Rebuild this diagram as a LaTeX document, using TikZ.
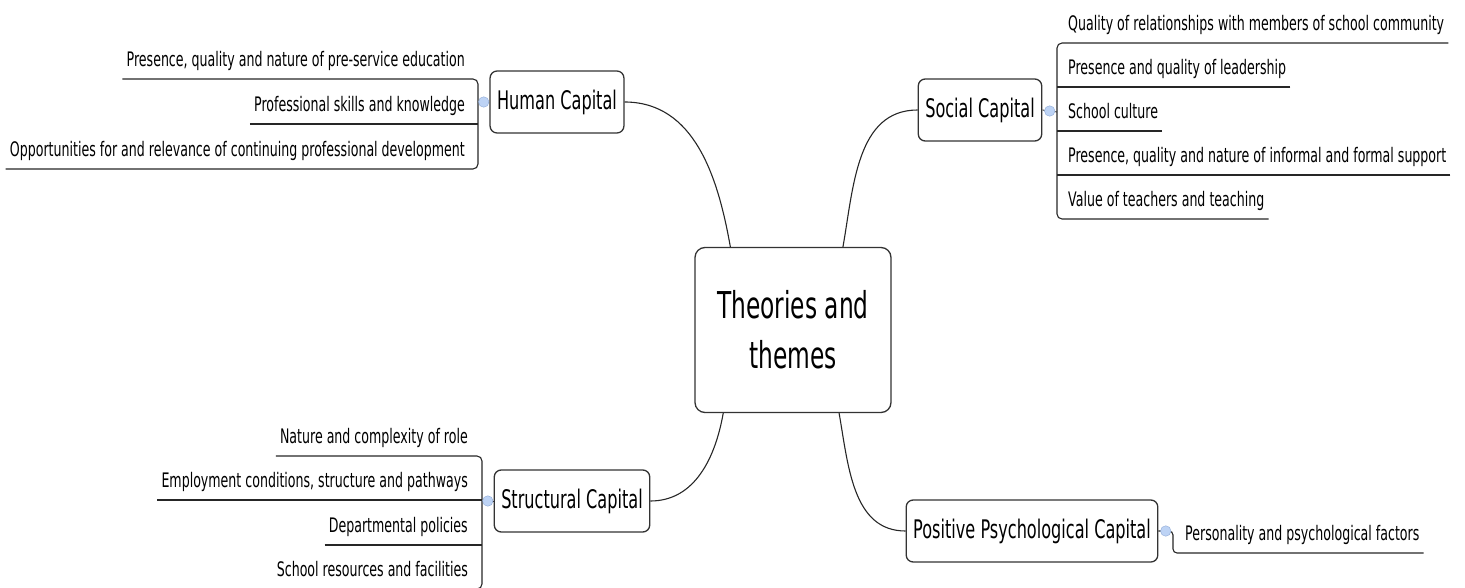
\documentclass[tikz,border=0pt]{standalone}
\usepackage{fontspec}
\setmainfont{DejaVu Sans}[FakeStretch=0.63]
\usetikzlibrary{calc, positioning}

\definecolor{knobfill}{HTML}{BDD3F5}
\definecolor{knobline}{HTML}{8FAAD6}

\begin{document}
\begin{tikzpicture}[x=1pt, y=1pt,
  theme/.style={draw=black!80, line width=1.3pt, rounded corners=10pt, align=center,
    minimum width=196pt, minimum height=165pt, font=\fontsize{37}{50}\selectfont},
  topic/.style={draw=black!80, line width=1.3pt, rounded corners=7pt, minimum height=62pt,
    inner xsep=7pt, font=\fontsize{25.6}{30}\selectfont},
  leaf/.style={inner xsep=4pt, inner ysep=0pt, text height=15pt, text depth=12pt,
    font=\fontsize{20}{24}\selectfont},
  link/.style={draw=black!85, line width=1.1pt},
  knob/.style={circle, draw=knobline, fill=knobfill, inner sep=0pt, minimum size=10.5pt}]
  \useasboundingbox (0,0) rectangle (1465,-588);

  % centre and main branches
  \node[theme] (theme) at (793,-330) {Theories and\\themes};
  \node[topic] (human) at (557,-102) {Human Capital};
  \node[topic] (social) at (980,-110) {Social Capital};
  \node[topic] (struct) at (572,-501) {Structural Capital};
  \node[topic] (posit) at (1032,-531) {Positive Psychological Capital};

  \draw[link] (human.east) to[out=0, in=100] (theme.127);
  \draw[link] (social.west) to[out=180, in=80] (theme.59);
  \draw[link] (struct.east) to[out=0, in=260] (theme.230);
  \draw[link] (posit.west) to[out=180, in=280] (theme.299);

  % human capital
  \coordinate (hbr) at (478,-102);
  \node[leaf, anchor=south east] (h1) at (469,-79) {Presence, quality and nature of pre-service education};
  \node[leaf, anchor=south east] (h2) at (469,-124) {Professional skills and knowledge};
  \node[leaf, anchor=south east] (h3) at (469,-169) {Opportunities for and relevance of continuing professional development};
  \draw[link, rounded corners=5pt] (h1.south west) -- (h1.south -| hbr) -- (h3.south -| hbr) -- (h3.south west);
  \draw[link] (h2.south west) -- (h2.south -| hbr);
  \draw[link, line width=0.8pt] (human.west) -- (hbr);
  \node[knob] (hk) at ($(hbr)!0.5!(human.west)$) {};

  % social capital
  \coordinate (sbr) at (1057,-112);
  \node[leaf, anchor=south west] (s1) at (1064,-43) {Quality of relationships with members of school community};
  \node[leaf, anchor=south west] (s2) at (1064,-87) {Presence and quality of leadership};
  \node[leaf, anchor=south west] (s3) at (1064,-131) {School culture};
  \node[leaf, anchor=south west] (s4) at (1064,-175) {Presence, quality and nature of informal and formal support};
  \node[leaf, anchor=south west] (s5) at (1064,-219) {Value of teachers and teaching};
  \draw[link, rounded corners=5pt] (s1.south east) -- (s1.south -| sbr) -- (s5.south -| sbr) -- (s5.south east);
  \foreach \s in {s2, s3, s4}
    \draw[link] (\s.south east) -- (\s.south -| sbr);
  \draw[link, line width=0.8pt] (social.east) -- (sbr);
  \node[knob] (sk) at ($(sbr)!0.5!(social.east)$) {};

  % structural capital
  \coordinate (tbr) at (482,-501);
  \node[leaf, anchor=south east] (t1) at (472,-456) {Nature and complexity of role};
  \node[leaf, anchor=south east] (t2) at (472,-500) {Employment conditions, structure and pathways};
  \node[leaf, anchor=south east] (t3) at (472,-545) {Departmental policies};
  \node[leaf, anchor=south east] (t4) at (472,-589) {School resources and facilities};
  \draw[link, rounded corners=5pt] (t1.south west) -- (t1.south -| tbr) -- (t4.south -| tbr) -- (t4.south west);
  \foreach \t in {t2, t3}
    \draw[link] (\t.south west) -- (\t.south -| tbr);
  \draw[link, line width=0.8pt] (struct.west) -- (tbr);
  \node[knob] (tk) at ($(tbr)!0.5!(struct.west)$) {};

  % positive psychological capital
  \coordinate (pbr) at (1173,-531);
  \node[leaf, anchor=south west] (p1) at (1181,-553) {Personality and psychological factors};
  \draw[link, rounded corners=4pt] (posit.east) -- (pbr) -- (pbr |- p1.south) -- (p1.south east);
  \node[knob] (pk) at ($(posit.east)!0.5!(pbr)$) {};
\end{tikzpicture}
\end{document}
